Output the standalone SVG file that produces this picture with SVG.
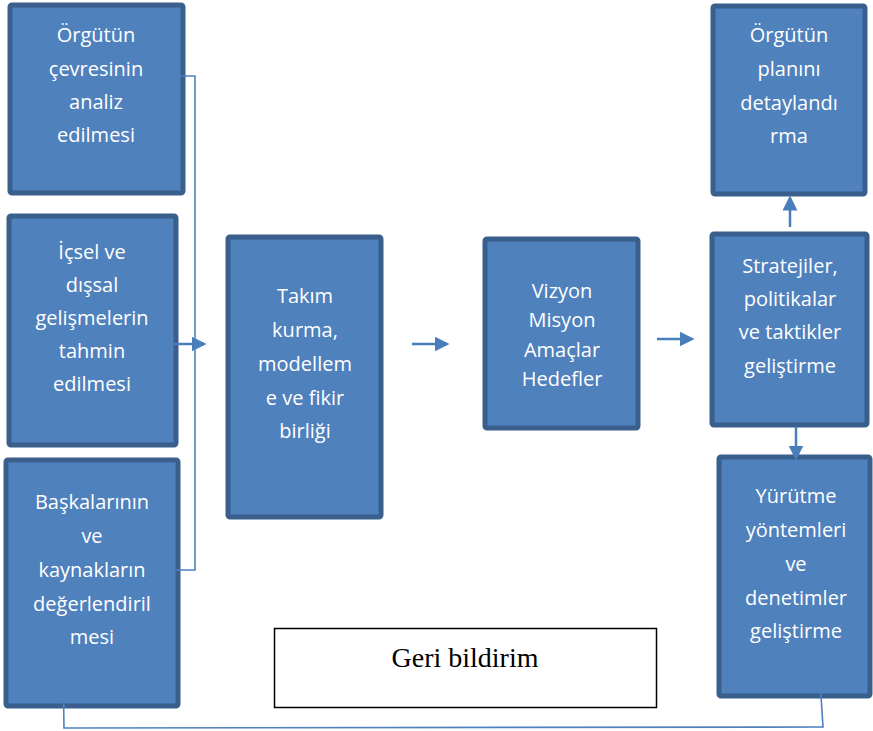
<svg xmlns="http://www.w3.org/2000/svg" width="873" height="731" viewBox="0 0 873 731">
<style>
.box{fill:#4F81BD;stroke:#3A5F8C;stroke-width:5}
.t{font-family:"Open Sans","Noto Sans",sans-serif;font-size:20px;fill:#FFFFFF;text-anchor:middle}
.c{fill:none;stroke:#4F81BD;stroke-width:1.6}
.a{fill:none;stroke:#4A7EBB;stroke-width:2.5}
</style>
<defs>
<marker id="ah" markerWidth="6" markerHeight="6" refX="5" refY="3" orient="auto" markerUnits="strokeWidth">
<path d="M0,0 L6,3 L0,6 Z" fill="#4A7EBB"/>
</marker>
</defs>
<rect width="873" height="731" fill="#FFFFFF"/>
<g id="n1"><rect class="box" x="10" y="5" width="173" height="188" rx="2"/>
<text class="t" x="96"><tspan x="96" y="42">Örgütün</tspan><tspan x="96" y="76">çevresinin</tspan><tspan x="96" y="109">analiz</tspan><tspan x="96" y="142">edilmesi</tspan></text></g>
<g id="n2"><rect class="box" x="9" y="216" width="167" height="229" rx="2"/>
<text class="t"><tspan x="92" y="259">İçsel ve</tspan><tspan x="92" y="292">dışsal</tspan><tspan x="92" y="325">gelişmelerin</tspan><tspan x="92" y="358">tahmin</tspan><tspan x="92" y="391">edilmesi</tspan></text></g>
<g id="n3"><rect class="box" x="6" y="460" width="172" height="246" rx="2"/>
<text class="t"><tspan x="92" y="509">Başkalarının</tspan><tspan x="92" y="543">ve</tspan><tspan x="92" y="577">kaynakların</tspan><tspan x="92" y="611">değerlendiril</tspan><tspan x="92" y="644">mesi</tspan></text></g>
<g id="n4"><rect class="box" x="228" y="237" width="153" height="280" rx="2"/>
<text class="t"><tspan x="305" y="303">Takım</tspan><tspan x="305" y="337">kurma,</tspan><tspan x="305" y="371">modellem</tspan><tspan x="305" y="405">e ve fikir</tspan><tspan x="305" y="438">birliği</tspan></text></g>
<g id="n5"><rect class="box" x="485" y="239" width="153" height="189" rx="2"/>
<text class="t"><tspan x="562" y="298">Vizyon</tspan><tspan x="562" y="327">Misyon</tspan><tspan x="562" y="357">Amaçlar</tspan><tspan x="562" y="386">Hedefler</tspan></text></g>
<g id="n6"><rect class="box" x="712" y="234" width="155" height="191" rx="2"/>
<text class="t"><tspan x="790" y="273">Stratejiler,</tspan><tspan x="790" y="306">politikalar</tspan><tspan x="790" y="339">ve taktikler</tspan><tspan x="790" y="373">geliştirme</tspan></text></g>
<g id="n7"><rect class="box" x="713" y="6" width="152" height="188" rx="2"/>
<text class="t"><tspan x="789" y="42">Örgütün</tspan><tspan x="789" y="76">planını</tspan><tspan x="789" y="110">detaylandı</tspan><tspan x="789" y="143">rma</tspan></text></g>
<g id="n8"><rect class="box" x="719" y="457" width="151" height="239" rx="2"/>
<text class="t"><tspan x="796" y="503">Yürütme</tspan><tspan x="796" y="537">yöntemleri</tspan><tspan x="796" y="571">ve</tspan><tspan x="796" y="605">denetimler</tspan><tspan x="796" y="638">geliştirme</tspan></text></g>
<g id="n9"><rect x="274.5" y="628.5" width="382" height="79" fill="#FFFFFF" stroke="#000000" stroke-width="1.5"/>
<text x="465" y="667" font-family="'Liberation Serif',serif" font-size="28" text-anchor="middle" fill="#000000">Geri bildirim</text></g>
<g id="connectors">
<polyline class="c" points="163,76 195,76 195,570 163,570"/>
<line class="a" x1="174" y1="344" x2="204" y2="344" marker-end="url(#ah)"/>
<line class="a" x1="412" y1="344" x2="447" y2="344" marker-end="url(#ah)"/>
<line class="a" x1="657" y1="339" x2="692" y2="339" marker-end="url(#ah)"/>
<line class="a" x1="790" y1="227" x2="790" y2="198" marker-end="url(#ah)"/>
<line class="a" x1="796" y1="427" x2="796" y2="458" marker-end="url(#ah)"/>
<polyline class="c" points="63,662 64,728 823,727 818,648"/>
</g>
</svg>
